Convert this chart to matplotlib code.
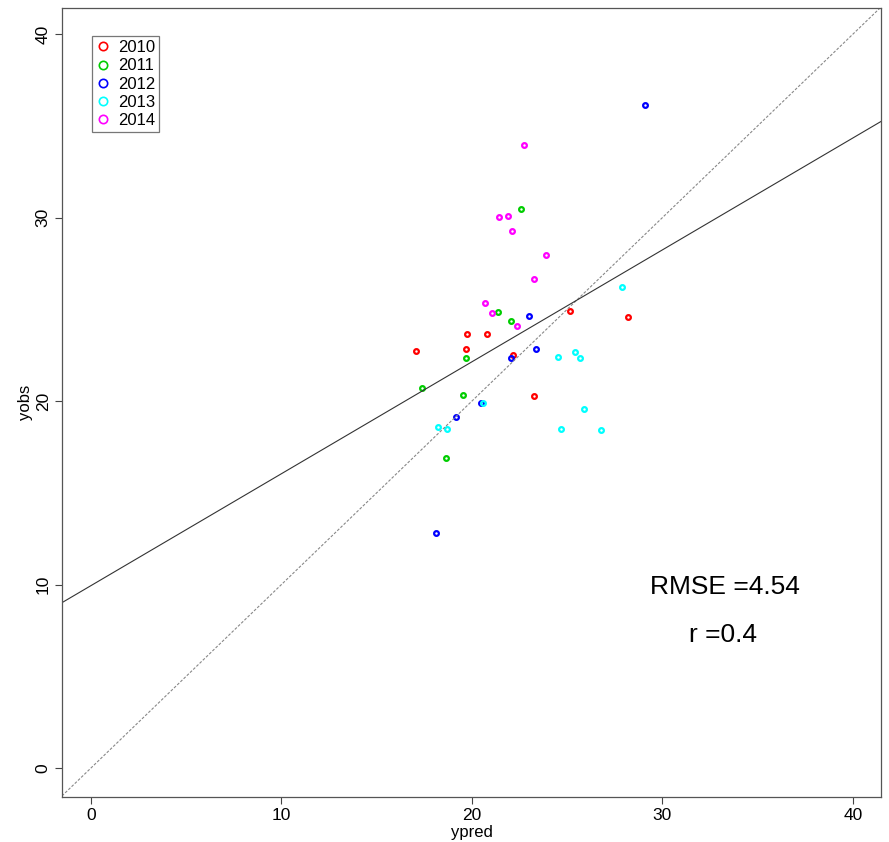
import matplotlib.pyplot as plt
from matplotlib.lines import Line2D

plt.rcParams['font.family'] = ['Liberation Sans', 'DejaVu Sans']

years = ['2010', '2011', '2012', '2013', '2014']
colors = ['#FF0000', '#00CD00', '#0000FF', '#00FFFF', '#FF00FF']

ypred_2010 = [17.08, 19.75, 20.77, 19.70, 22.17, 23.24, 25.13, 28.19]
yobs_2010 = [22.74, 23.65, 23.63, 22.83, 22.52, 20.27, 24.89, 24.56]

ypred_2011 = [21.38, 22.05, 19.67, 17.36, 19.53, 18.62, 22.59]
yobs_2011 = [24.83, 24.38, 22.33, 20.69, 20.31, 16.89, 30.45]

ypred_2012 = [23.01, 23.34, 22.05, 20.47, 19.14, 18.09, 29.07]
yobs_2012 = [24.65, 22.82, 22.33, 19.91, 19.14, 12.81, 36.11]

ypred_2013 = [24.50, 25.41, 25.65, 20.56, 25.90, 18.22, 18.69, 24.69, 26.76, 27.86]
yobs_2013 = [22.41, 22.69, 22.36, 19.87, 19.55, 18.58, 18.46, 18.46, 18.40, 26.20]

ypred_2014 = [22.75, 21.40, 21.91, 22.08, 23.90, 23.24, 20.68, 21.03, 22.36]
yobs_2014 = [33.95, 30.03, 30.08, 29.28, 27.94, 26.65, 25.36, 24.81, 24.10]

# regression line of yobs on ypred
fit_intercept = 9.94
fit_slope = 0.61
rmse = 4.54
r = 0.4

xs = [ypred_2010, ypred_2011, ypred_2012, ypred_2013, ypred_2014]
ys = [yobs_2010, yobs_2011, yobs_2012, yobs_2013, yobs_2014]

fig = plt.figure(figsize=(8.89, 8.42), dpi=100)
ax = fig.add_axes([0.0697, 0.0534, 0.9213, 0.9371])

for x, y, c in zip(xs, ys, colors):
    ax.plot(x, y, 'o', ms=3.4, mfc='none', mec=c, mew=1.6, ls='none')

ax.axline((0, 0), slope=1, color='#888888', lw=0.8, ls=(0, (2.5, 1.5)))
ax.axline((0, fit_intercept), slope=fit_slope, color='#333333', lw=0.8)

ax.set_xlim(-1.52, 41.47)
ax.set_ylim(-1.58, 41.42)
ax.set_xticks([0, 10, 20, 30, 40])
ax.set_yticks([0, 10, 20, 30, 40])
ax.tick_params(labelsize=12.5, length=5, color='#444444', pad=3)
for lab in ax.get_yticklabels():
    lab.set_rotation(90)
    lab.set_va('center')
for s in ax.spines.values():
    s.set_color('#555555')
    s.set_linewidth(0.9)

ax.set_xlabel('ypred', fontsize=12, labelpad=1)
ax.set_ylabel('yobs', fontsize=12, labelpad=2)

ax.text(33.28, 9.86, f'RMSE ={rmse}', fontsize=19, ha='center', va='center')
ax.text(33.2, 7.25, f'r ={r}', fontsize=19, ha='center', va='center')

handles = [Line2D([], [], marker='o', ls='none', ms=6, mfc='none', mec=c, mew=1.2)
           for c in colors]
leg = ax.legend(handles, years, loc='upper left', bbox_to_anchor=(0.0366, 0.9645),
                borderaxespad=0, fontsize=12, fancybox=False, handlelength=0.8,
                handletextpad=0.5, labelspacing=0.195, borderpad=0.25)
leg.get_frame().set_edgecolor('#555555')
leg.get_frame().set_linewidth(0.9)

fig.savefig('out.png', dpi=100)
